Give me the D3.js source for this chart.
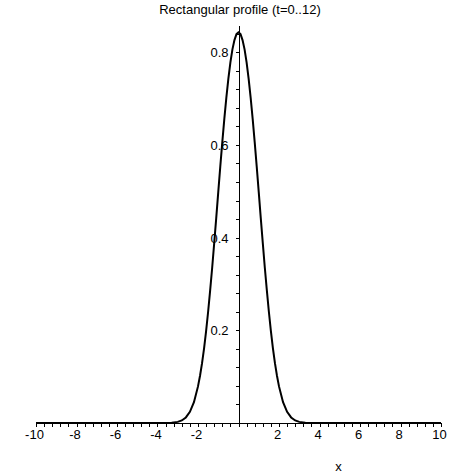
<!DOCTYPE html>
<html>
<head>
<meta charset="utf-8">
<script src="https://cdn.jsdelivr.net/npm/d3@7"></script>
<style>
  html, body { margin: 0; padding: 0; background: #fff; }
  svg { display: block; }
  text { font-family: "Liberation Sans", Arial, sans-serif; font-size: 13px; fill: #000; }
</style>
</head>
<body>
<svg id="chart" width="474" height="474"></svg>
<script>
const title = "Rectangular profile (t=0..12)";
const xLabel = "x";
const xValues = [-10, -4, -3.6, -3.3, -3.0, -2.8, -2.6, -2.4, -2.2, -2.0, -1.9, -1.8, -1.7, -1.6, -1.5, -1.4, -1.3, -1.2, -1.1, -1.0,
  -0.9, -0.8, -0.7, -0.6, -0.5, -0.4, -0.3, -0.2, -0.1, 0,
  0.1, 0.2, 0.3, 0.4, 0.5, 0.6, 0.7, 0.8, 0.9, 1.0, 1.1, 1.2, 1.3, 1.4, 1.5, 1.6, 1.7, 1.8, 1.9, 2.0,
  2.2, 2.4, 2.6, 2.8, 3.0, 3.3, 3.6, 4, 10];
const yValues = [0, 0, 0.0001, 0.0006, 0.0024, 0.0055, 0.012, 0.024, 0.045, 0.079, 0.102, 0.129, 0.161, 0.198, 0.240, 0.286, 0.335, 0.388, 0.442, 0.498,
  0.553, 0.606, 0.656, 0.702, 0.743, 0.778, 0.806, 0.826, 0.839, 0.843,
  0.839, 0.826, 0.806, 0.778, 0.743, 0.702, 0.656, 0.606, 0.553, 0.498, 0.442, 0.388, 0.335, 0.286, 0.240, 0.198, 0.161, 0.129, 0.102, 0.079,
  0.045, 0.024, 0.012, 0.0055, 0.0024, 0.0006, 0.0001, 0, 0];
const xTickLabels = [-10, -8, -6, -4, -2, 2, 4, 6, 8, 10];
const yTickLabels = [0.2, 0.4, 0.6, 0.8];

const svg = d3.select("#chart");
const x = d3.scaleLinear().domain([-10, 10]).range([36, 441]);
const y = d3.scaleLinear().domain([0, 0.8565]).range([423, 26]);

const fmtY = d => d3.format(".1f")(d);

// title
svg.append("text").attr("x", 240).attr("y", 14).attr("text-anchor", "middle").text(title);

// x axis
const xAxisG = svg.append("g").attr("shape-rendering", "crispEdges");
xAxisG.append("line").attr("x1", x(-10)).attr("x2", x(10))
  .attr("y1", Math.round(y(0)) + 0.5).attr("y2", Math.round(y(0)) + 0.5).attr("stroke", "#000");
const xMinor = d3.range(-10, 10.001, 0.4).map(v => +v.toFixed(2));
xAxisG.selectAll("line.xt").data(xMinor).enter().append("line")
  .attr("x1", d => Math.round(x(d)) + 0.5).attr("x2", d => Math.round(x(d)) + 0.5)
  .attr("y1", Math.round(y(0))).attr("y2", Math.round(y(0)) + 4).attr("stroke", "#000");
svg.selectAll("text.xl").data(xTickLabels).enter().append("text")
  .attr("x", d => x(d) - 1.5).attr("y", 439).attr("text-anchor", "middle").text(d => d);

// y axis
const yAxisG = svg.append("g").attr("shape-rendering", "crispEdges");
yAxisG.append("line").attr("x1", Math.round(x(0)) + 0.5).attr("x2", Math.round(x(0)) + 0.5)
  .attr("y1", y(0.8565)).attr("y2", y(0)).attr("stroke", "#000");
const yMinor = d3.range(0.04, 0.8565, 0.04).map(v => +v.toFixed(2));
yAxisG.selectAll("line.yt").data(yMinor).enter().append("line")
  .attr("x1", Math.round(x(0)) - 3).attr("x2", Math.round(x(0)) + 0.5)
  .attr("y1", d => Math.round(y(d)) + 0.5).attr("y2", d => Math.round(y(d)) + 0.5).attr("stroke", "#000");
svg.selectAll("text.yl").data(yTickLabels).enter().append("text")
  .attr("x", x(0) - 10).attr("y", d => y(d) + 5).attr("text-anchor", "end").text(fmtY);

// x label
svg.append("text").attr("x", 338.5).attr("y", 471).attr("text-anchor", "middle").text(xLabel);

// curve
const pts = xValues.map((v, i) => [v, yValues[i]]);
const line = d3.line().x(d => x(d[0])).y(d => y(d[1]));
svg.append("path").datum(pts).attr("d", line)
  .attr("fill", "none").attr("stroke", "#000").attr("stroke-width", 2).attr("stroke-linejoin", "miter");
</script>
</body>
</html>
